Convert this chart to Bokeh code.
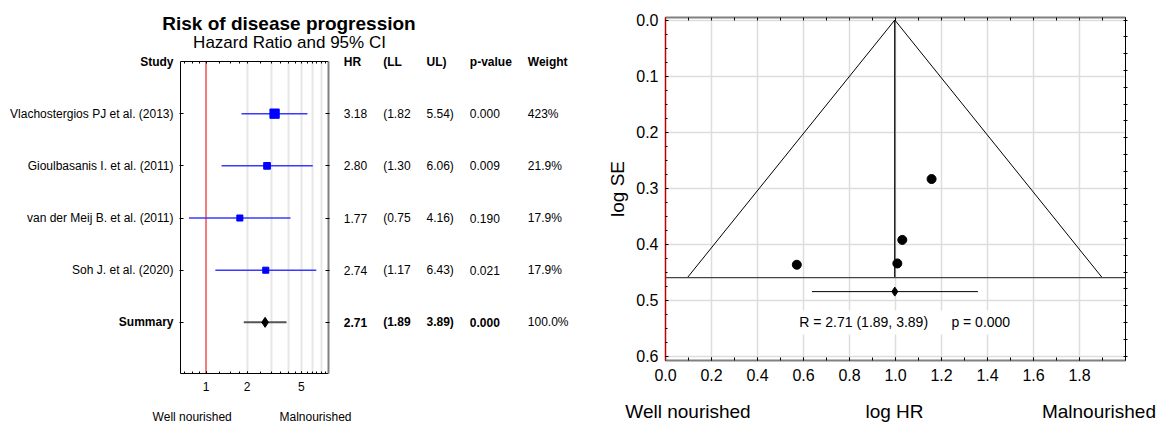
import math
from bokeh.plotting import figure
from bokeh.layouts import row, column
from bokeh.models import Range1d, FixedTicker, LinearAxis, LogAxis, Span, NumeralTickFormatter, Label
from bokeh.core.properties import value
from bokeh.embed import file_html
from bokeh.resources import INLINE

FONT = "Liberation Sans"
NBSP = "\u00a0"

# ---------------- data ----------------
studies = ["Vlachostergios PJ et al. (2013)", "Gioulbasanis I. et al. (2011)",
           "van der Meij B. et al. (2011)", "Soh J. et al. (2020)"]
hr = [3.18, 2.80, 1.77, 2.74]
ll = [1.82, 1.30, 0.75, 1.17]
ul = [5.54, 6.06, 4.16, 6.43]
p_values = ["0.000", "0.009", "0.190", "0.021"]
weights = [42.3, 21.9, 17.9, 17.9]
weight_labels = ["423%", "21.9%", "17.9%", "17.9%"]
summary_label = "Summary"
summary_hr = 2.71
summary_ll = 1.89
summary_ul = 3.89
summary_p = "0.000"
summary_weight_label = "100.0%"
table_headers = ["HR", "(LL", "UL)", "p-value", "Weight"]
forest_tick_values = [1, 2, 5]
forest_tick_labels = ["1", "2", "5"]
forest_minor = [0.7, 0.8, 0.9, 1, 1.25, 1.5, 1.75, 2, 2.5, 3, 3.5, 4, 4.5, 5, 5.5, 6, 6.5, 7, 7.5]
forest_grid = [2, 3, 4, 5, 6, 7]
null_hr = 1
funnel_se_max = 0.46
funnel_summary_se = 0.485
funnel_x_ticks = [0.0, 0.2, 0.4, 0.6, 0.8, 1.0, 1.2, 1.4, 1.6, 1.8]
funnel_y_ticks = [0.0, 0.1, 0.2, 0.3, 0.4, 0.5, 0.6]

rows = [1, 2, 3, 4]
summary_row = 5
header_row = 0

# derived funnel values
log_hr = [math.log(h) for h in hr]
se = [(math.log(u) - math.log(l)) / (2 * 1.96) for l, u in zip(ll, ul)]
sum_log = math.log(summary_hr)

# ---------------- layout ----------------
TITLE_H, ROW_H, LBOT_H = 52, 344, 27
LAB_W, FOR_W, TAB_W = 176, 160, 254
LEFT_W = LAB_W + FOR_W + TAB_W
FUN_W, FUN_H, FBOT_H = 572, 390, 33
FOR_TOP, FOR_FRAME_H, FOR_LEFT, FOR_FRAME_W = 9, 312, 4, 148
Y_START, Y_END = 5.98, 0.0
px_row = FOR_FRAME_H / (Y_START - Y_END)


def blank(width, height, xr, yr):
    p = figure(width=width, height=height, x_range=xr, y_range=yr,
               output_backend="svg", toolbar_location=None,
               x_axis_location=None, y_axis_location=None,
               min_border=0, outline_line_color=None)
    p.grid.visible = False
    return p


def txt(p, x, y, texts, size, align="left", style="normal"):
    p.text(x=x, y=y, text=texts, text_font=value(FONT), text_font_size=size,
           text_align=align, text_baseline="middle", text_font_style=style,
           text_color="black")


def row_range():
    return Range1d(start=(ROW_H - FOR_TOP) / px_row, end=-FOR_TOP / px_row)


def style_axis(ax, size):
    ax.major_label_text_font = FONT
    ax.major_label_text_font_size = size
    ax.major_label_text_color = "black"
    ax.axis_label_text_color = "black"
    ax.major_tick_line_color = "black"
    ax.minor_tick_line_color = "black"


# title
ttl = blank(LEFT_W, TITLE_H, Range1d(0, LEFT_W), Range1d(TITLE_H, 0))
txt(ttl, [288.5], [22.5], ["Risk of disease progression"], "19px", "center", "bold")
txt(ttl, [289], [42.3], ["Hazard Ratio and 95% CI"], "17px", "center", "normal")

# study labels
lab = blank(LAB_W, ROW_H, Range1d(0, LAB_W), row_range())
txt(lab, [173] * len(studies), rows, studies, "12px", "right")
txt(lab, [173, 173], [header_row, summary_row], ["Study", summary_label], "12px", "right", "bold")

# table
col_x = [7.3, 46.7, 90, 133.3, 191.3]
tab = blank(TAB_W, ROW_H, Range1d(0, TAB_W), row_range())
txt(tab, col_x, [header_row] * 5, table_headers, "12px", "left", "bold")
cols = [[f"{v:.2f}" for v in hr], [f"({v:.2f}" for v in ll], [f"{v:.2f})" for v in ul],
        p_values, weight_labels]
for cx, vals in zip(col_x, cols):
    txt(tab, [cx] * len(vals), rows, vals, "12px", "left")
txt(tab, col_x[:4], [summary_row] * 4,
    [f"{summary_hr:.2f}", f"({summary_ll:.2f}", f"{summary_ul:.2f})", summary_p], "12px", "left", "bold")
txt(tab, [col_x[4]], [summary_row], [summary_weight_label], "12px", "left")

# forest plot
fp = figure(width=FOR_W, height=ROW_H, x_axis_type="log", x_range=Range1d(0.65, 7.9),
            y_range=Range1d(Y_START, Y_END), output_backend="svg", toolbar_location=None,
            min_border_left=FOR_LEFT, min_border_right=FOR_W - FOR_LEFT - FOR_FRAME_W,
            min_border_top=FOR_TOP, min_border_bottom=ROW_H - FOR_TOP - FOR_FRAME_H,
            outline_line_color=None)
xa = fp.xaxis[0]
xa.ticker = FixedTicker(ticks=forest_tick_values, minor_ticks=forest_minor)
xa.major_label_overrides = dict(zip(forest_tick_values, forest_tick_labels))
style_axis(xa, "12px")
xa.major_label_standoff = 8
xa.major_tick_in, xa.major_tick_out = 2, 0
xa.minor_tick_in, xa.minor_tick_out = 2, 0
xa.axis_line_color = "black"

ya = fp.yaxis[0]
all_rows = rows + [summary_row]
ya.ticker = FixedTicker(ticks=all_rows, minor_ticks=[])
ya.major_label_overrides = {r: "" for r in all_rows}
ya.major_label_standoff = 0
ya.major_tick_in, ya.major_tick_out = 3, 1
ya.major_tick_line_color = "black"
ya.axis_line_color = "black"

ra = LinearAxis(ticker=FixedTicker(ticks=all_rows, minor_ticks=[]),
                major_label_overrides={r: "" for r in all_rows}, major_label_standoff=0,
                axis_line_color="#808080", axis_line_width=2, major_tick_line_color="black",
                major_tick_in=3, major_tick_out=1)
fp.add_layout(ra, "right")
ta = LogAxis(ticker=FixedTicker(ticks=[], minor_ticks=forest_minor), major_label_standoff=0,
             minor_tick_in=2, minor_tick_out=0, major_tick_in=0, major_tick_out=0,
             minor_tick_line_color="black", axis_line_color="black")
fp.add_layout(ta, "above")

fp.xgrid.ticker = FixedTicker(ticks=forest_grid)
fp.xgrid.grid_line_color = "#e6e6e6"
fp.xgrid.grid_line_width = 2
fp.ygrid.visible = False
fp.add_layout(Span(location=null_hr, dimension="height", line_color="#f27b7b",
                   line_width=2, level="underlay"))

fp.segment(x0=ll, y0=rows, x1=ul, y1=rows, line_color="#3a3aff", line_width=1.5)
fp.scatter(x=hr, y=rows, marker="square", size=[1.43 * math.sqrt(w) for w in weights],
           fill_color="#0000ff", line_color="#0000ff")
fp.segment(x0=[summary_ll], y0=[summary_row], x1=[summary_ul], y1=[summary_row],
           line_color="#555555", line_width=2)
fp.scatter(x=[summary_hr], y=[summary_row], marker="diamond", size=10,
           fill_color="black", line_color="black")

# left bottom labels
lb = blank(LEFT_W, LBOT_H, Range1d(0, LEFT_W), Range1d(LBOT_H, 0))
txt(lb, [191.7, 315], [20, 20], ["Well nourished", "Malnourished"], "12px", "center", "normal")

# funnel plot
FUN_LEFT, FUN_FRAME_W, FUN_TOP, FUN_FRAME_H = 75, 460, 17, 343
fn = figure(width=FUN_W, height=FUN_H, x_range=Range1d(0, 2.0), y_range=Range1d(0.608, -0.0045),
            output_backend="svg", toolbar_location=None,
            min_border_left=FUN_LEFT, min_border_right=FUN_W - FUN_LEFT - FUN_FRAME_W,
            min_border_top=FUN_TOP, min_border_bottom=FUN_H - FUN_TOP - FUN_FRAME_H,
            outline_line_color=None)
bx = fn.xaxis[0]
bx.ticker = FixedTicker(ticks=funnel_x_ticks, minor_ticks=[round(0.1 * k, 2) for k in range(21)])
bx.formatter = NumeralTickFormatter(format="0.0")
style_axis(bx, "16px")
bx.major_label_standoff = 8
bx.axis_line_color = "#808080"
bx.axis_line_width = 2
bx.major_tick_in, bx.major_tick_out = 3, 0
bx.minor_tick_in, bx.minor_tick_out = 3, 0

ly = fn.yaxis[0]
ly.ticker = FixedTicker(ticks=funnel_y_ticks, minor_ticks=[round(0.025 * k, 3) for k in range(25)])
ly.formatter = NumeralTickFormatter(format="0.0")
style_axis(ly, "16px")
ly.major_label_standoff = 7
ly.axis_line_color = "#c00000"
ly.axis_line_width = 1.5
ly.major_tick_in, ly.major_tick_out = 3, 0
ly.minor_tick_in, ly.minor_tick_out = 2, 0
ly.axis_label = "log SE"
ly.axis_label_text_font = FONT
ly.axis_label_text_font_size = "19px"
ly.axis_label_text_font_style = "normal"
ly.axis_label_standoff = 5

tx = LinearAxis(ticker=FixedTicker(ticks=[], minor_ticks=[round(0.1 * k, 2) for k in range(21)]),
                major_label_standoff=0, minor_tick_in=3, minor_tick_out=0,
                minor_tick_line_color="black", axis_line_color="#808080", axis_line_width=2)
fn.add_layout(tx, "above")
ry = LinearAxis(ticker=FixedTicker(ticks=[], minor_ticks=[round(0.03 * k, 2) for k in range(21)]),
                major_label_standoff=0, minor_tick_in=2, minor_tick_out=2,
                minor_tick_line_color="black", axis_line_color="black", axis_line_width=1)
fn.add_layout(ry, "right")

fn.xgrid.ticker = FixedTicker(ticks=[round(0.2 * k, 2) for k in range(11)])
fn.ygrid.ticker = FixedTicker(ticks=funnel_y_ticks)
fn.grid.grid_line_color = "#dddddd"
fn.grid.grid_line_width = 1.5

half = 1.96 * funnel_se_max
fn.line(x=[sum_log - half, sum_log, sum_log + half], y=[funnel_se_max, 0, funnel_se_max],
        line_color="black", line_width=1)
fn.line(x=[sum_log, sum_log], y=[0, funnel_se_max], line_color="black", line_width=1.3)
fn.add_layout(Span(location=funnel_se_max, dimension="width", line_color="#444444", line_width=1.3))
fn.line(x=[math.log(summary_ll), math.log(summary_ul)], y=[funnel_summary_se] * 2,
        line_color="black", line_width=1)
fn.scatter(x=[sum_log], y=[funnel_summary_se], marker="diamond", size=9,
           fill_color="black", line_color="black")
fn.scatter(x=log_hr, y=se, marker="circle", size=9, fill_color="black", line_color="black")

res_text = (f"R = {summary_hr:.2f} ({summary_ll:.2f}, {summary_ul:.2f})" + NBSP * 6 +
            f"p = {summary_p}")
fn.add_layout(Label(x=1.04, y=0.54, text=res_text, text_font=FONT, text_font_size="14px",
                    text_align="center", text_baseline="middle", text_color="black",
                    background_fill_color="white", padding=4))

# funnel bottom labels
fb = blank(FUN_W, FBOT_H, Range1d(0, FUN_W), Range1d(FBOT_H, 0))
txt(fb, [97.5], [21.2], ["Well nourished"], "19px", "center", "normal")
txt(fb, [FUN_LEFT + FUN_FRAME_W / 2 - 1], [21.2], ["log HR"], "19px", "center", "normal")
txt(fb, [565.5], [21.2], ["Malnourished"], "19px", "right", "normal")

# each figure wrapped in its own column so that frames are not aligned across figures
layout = row(
    column(column(ttl), row(column(lab), column(fp), column(tab)), column(lb)),
    column(column(fn), column(fb)),
)
open("out.html", "w").write(file_html(layout, INLINE))
